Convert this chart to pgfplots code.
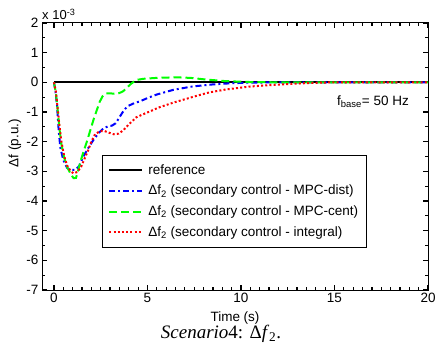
\documentclass[border=0pt]{standalone}
\usepackage{pgfplots}
\pgfplotsset{compat=1.18}
\usepackage{fontspec}
\setmainfont{Liberation Sans}
\newfontfamily\seriffont{Liberation Serif}
\begin{document}
\begin{tikzpicture}
\begin{axis}[
  name=ax,
  width=386pt, height=267pt, scale only axis,
  xmin=-0.64, xmax=20, ymin=-7, ymax=2,
  xtick={0,5,10,15,20}, ytick={-7,-6,-5,-4,-3,-2,-1,0,1,2},
  minor x tick num=9, minor y tick num=1,
  xtick pos=both, ytick pos=both, xtick align=inside, ytick align=inside,
  tickwidth=5pt, subtickwidth=3pt,
  every tick/.append style={black, line width=1.2pt},
  axis line style={black, line width=1pt},
  /pgf/number format/assume math mode=true,
  tick label style={font=\fontsize{13.5}{15}\selectfont},
  label style={font=\fontsize{13.5}{15}\selectfont},
  xlabel={Time (s)},
  ylabel={Δf (p.u.)},
  xlabel style={at={(axis description cs:0.5,-0.105)}, anchor=center},
  ylabel style={at={(axis description cs:-0.07,0.55)}, anchor=center},
  legend cell align=left,
  legend image code/.code={\draw[#1] (0pt,0pt) -- (33pt,0pt);},
  legend style={at={(rel axis cs:0.155,0.506)}, anchor=north west,
    draw=black, line width=1pt, font=\fontsize{13.5}{15}\selectfont,
    row sep=5.5pt, inner xsep=6pt, inner ysep=7pt,
    /tikz/every odd column/.append style={column sep=3pt}},
]
\addplot[black, line width=2pt] table {
0 0
20 0
};
\addlegendentry{reference}
\addplot[blue, line width=2pt, dash pattern=on 6pt off 3pt on 2pt off 3pt] table {
0 0
0.08 -0.3
0.16 -0.75
0.25 -1.6
0.34 -2.2
0.5 -2.62
0.7 -2.88
0.85 -2.95
1.15 -2.95
1.35 -2.82
1.57 -2.5
1.85 -2.2
2.1 -1.95
2.4 -1.7
2.65 -1.55
2.9 -1.48
3.1 -1.46
3.3 -1.38
3.53 -1.15
3.75 -0.93
3.95 -0.8
4.3 -0.7
4.6 -0.64
5.0 -0.53
5.5 -0.41
6.4 -0.25
7.4 -0.14
8.5 -0.07
9.5 -0.03
10.5 -0.01
12 0
20 0
};
\addlegendentry{Δf\textsubscript{2} (secondary control - MPC-dist)}
\addplot[color={rgb,1:red,0;green,1;blue,0}, line width=2pt, dash pattern=on 8pt off 4pt] table {
0 0
0.1 -0.35
0.2 -0.95
0.3 -1.6
0.4 -2.1
0.55 -2.55
0.7 -2.85
0.9 -3.1
1.05 -3.23
1.18 -3.22
1.3 -2.95
1.45 -2.6
1.6 -2.3
1.76 -2.0
1.95 -1.6
2.12 -1.25
2.3 -0.92
2.45 -0.65
2.6 -0.47
2.8 -0.37
3.0 -0.37
3.3 -0.39
3.5 -0.36
3.7 -0.3
3.9 -0.18
4.1 -0.06
4.4 0.08
4.8 0.12
5.5 0.15
6.5 0.17
7.3 0.15
8.2 0.09
9.2 0.04
10.5 0.01
12 0
20 0
};
\addlegendentry{Δf\textsubscript{2} (secondary control - MPC-cent)}
\addplot[red, line width=2pt, dash pattern=on 2pt off 2.2pt] table {
0 0
0.1 -0.3
0.2 -0.9
0.3 -1.5
0.4 -2.0
0.55 -2.5
0.7 -2.8
0.9 -3.0
1.05 -3.07
1.25 -3.02
1.45 -2.85
1.65 -2.55
1.84 -2.27
2.0 -2.0
2.2 -1.75
2.45 -1.65
2.7 -1.64
2.95 -1.7
3.2 -1.75
3.45 -1.73
3.7 -1.62
4.0 -1.42
4.4 -1.18
4.9 -1.04
5.13 -0.98
5.6 -0.85
6.4 -0.68
7.6 -0.46
8.3 -0.34
9.2 -0.24
10.5 -0.14
11.9 -0.08
13.7 -0.02
15 0
20 0
};
\addlegendentry{Δf\textsubscript{2} (secondary control - integral)}
\node[anchor=center, font=\fontsize{13.5}{15}\selectfont] at (axis cs:17.06,-0.65) {f\textsubscript{base}= 50 Hz};
\end{axis}
\node[anchor=south west, inner sep=0pt, yshift=3pt, font=\fontsize{13}{15}\selectfont] at (ax.north west) {x 10\textsuperscript{-3}};
\node[anchor=center, font=\seriffont\fontsize{19}{22}\selectfont] at ([xshift=-14pt,yshift=-44pt]ax.south) {\textit{Scenario}4: Δ\textit{f}\textsubscript{2}.};
\path ([xshift=-42pt,yshift=-70pt]ax.south west) rectangle ([xshift=12pt,yshift=23pt]ax.north east);
\end{tikzpicture}
\end{document}
